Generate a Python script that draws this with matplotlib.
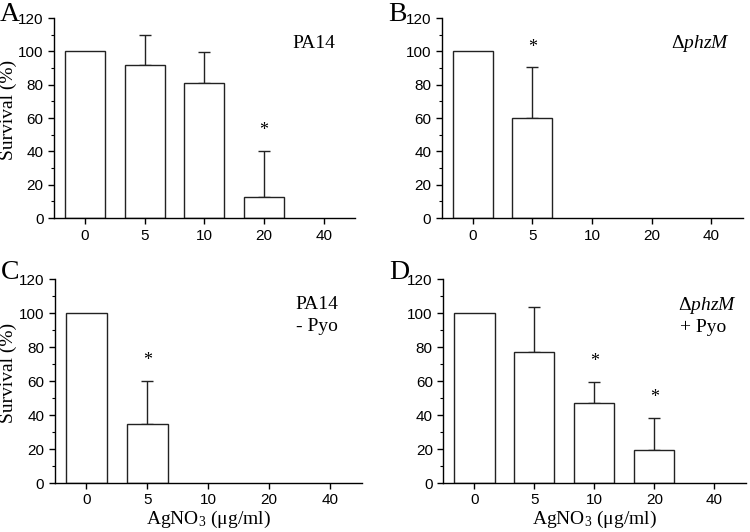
import matplotlib.pyplot as plt
from matplotlib.ticker import MultipleLocator

plt.rcParams['mathtext.fontset'] = 'custom'
plt.rcParams['mathtext.rm'] = 'Liberation Serif'
plt.rcParams['mathtext.it'] = 'Liberation Serif:italic'

conc_labels = ['0', '5', '10', '20', '40']

pa14_vals = [100, 92, 81, 12.5]
pa14_err = [0, 18, 18.5, 28]
pa14_stars = [3]

phzm_vals = [100, 60]
phzm_err = [0, 30.5]
phzm_stars = [1]

pa14_pyo_vals = [100, 34.5]
pa14_pyo_err = [0, 25.5]
pa14_pyo_stars = [1]

phzm_pyo_vals = [100, 77, 47, 19.5]
phzm_pyo_err = [0, 26.5, 12.5, 19]
phzm_pyo_stars = [2, 3]

serif = ['Liberation Serif', 'DejaVu Serif']
sans = ['Liberation Sans', 'DejaVu Sans']

W, H = 750, 532
fig = plt.figure(figsize=(W / 100, H / 100), dpi=100)

phzm_txt = 'Δ$\\it{phzM}$'
panels = [
    ('A', [0.072, 0.590, 0.401, 0.376], pa14_vals, pa14_err, pa14_stars,
     [('PA14', 3.47, 105)], True, False, 4),
    ('B', [0.589, 0.590, 0.401, 0.376], phzm_vals, phzm_err, phzm_stars,
     [(phzm_txt, 3.33, 105)], False, False, 4),
    ('C', [0.073, 0.092, 0.409, 0.383], pa14_pyo_vals, pa14_pyo_err, pa14_pyo_stars,
     [('PA14', 3.44, 105), ('- Pyo', 3.44, 92)], True, True, 7),
    ('D', [0.591, 0.092, 0.403, 0.383], phzm_pyo_vals, phzm_pyo_err, phzm_pyo_stars,
     [(phzm_txt, 3.4, 104.5), ('+ Pyo', 3.42, 91.5)], False, True, 7),
]

for letter, rect, vals, errs, stars, notes, ylab, xlab, lift in panels:
    ax = fig.add_axes(rect)
    x = list(range(len(vals)))
    ax.bar(x, vals, width=0.67, color='white', edgecolor='#222222', linewidth=1.0, zorder=2)
    xs = [i for i in x if errs[i] > 0]
    ax.errorbar(xs, [vals[i] for i in xs], yerr=[[0] * len(xs), [errs[i] for i in xs]],
                fmt='none', ecolor='#222222', elinewidth=1.0, capsize=4, capthick=1.0, zorder=1)
    for i in stars:
        ax.text(i, vals[i] + errs[i] + 12, '*', ha='center', va='center', fontsize=13, family=serif)
    ax.set_xlim(-0.52, 4.52)
    ax.set_ylim(0, 120)
    ax.set_xticks(range(len(conc_labels)))
    ax.set_xticklabels(conc_labels)
    ax.yaxis.set_major_locator(MultipleLocator(20))
    ax.yaxis.set_minor_locator(MultipleLocator(10))
    ax.tick_params(direction='out', labelsize=11, length=4, width=1)
    ax.tick_params(which='minor', length=2.5, width=0.8)
    for lab in ax.get_xticklabels() + ax.get_yticklabels():
        lab.set_family(sans)
    ax.spines['top'].set_visible(False)
    ax.spines['right'].set_visible(False)
    for sp in ['left', 'bottom']:
        ax.spines[sp].set_linewidth(1.0)
    if ylab:
        ax.set_ylabel('Survival (%)', fontsize=14, family=serif)
        ax.yaxis.set_label_coords(-0.124, 0.54)
    if xlab:
        ax.set_xlabel('AgNO$_3$ (μg/ml)', fontsize=14, family=serif)
        ax.xaxis.set_label_coords(0.5, -0.125)
    for txt, xv, yv in notes:
        ax.text(xv, yv, txt, ha='left', va='center', fontsize=14, family=serif)
    fig.text(rect[0] - 54 / W, rect[1] + rect[3] + lift / H, letter,
             ha='left', va='center', fontsize=20, family=serif)

fig.savefig('out.png', dpi=100)
